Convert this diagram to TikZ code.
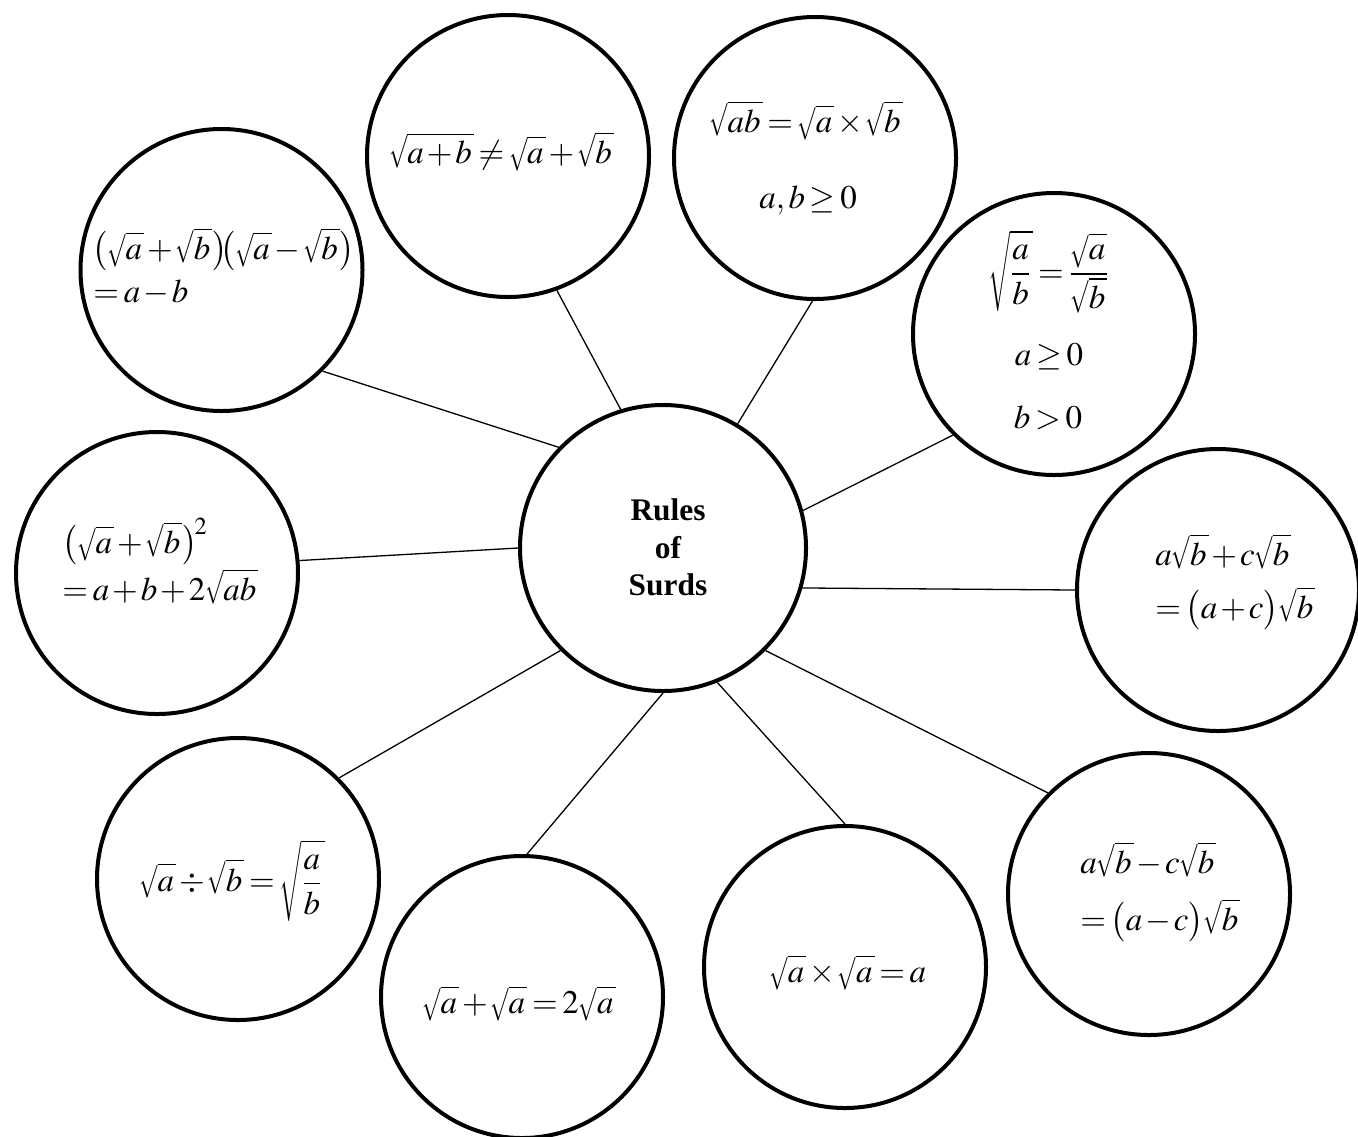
\documentclass[tikz,border=0pt]{standalone}
\usepackage{graphicx}
\usepackage{mathptmx}
\usepackage{fontspec}
\setmainfont{Liberation Serif}
\thinmuskip=2mu
\medmuskip=1.6mu plus 1mu minus 1mu
\thickmuskip=2.6mu plus 2mu
\newlength\rtw
\newlength\rth
\newlength\rtt
\newbox\rtboxA
\newbox\rtboxB
\newcommand\rt[1]{\mathpalette\rtaux{#1}}
\newcommand\rtaux[2]{%
  \setbox\rtboxA=\hbox{$\mathsurround=0pt#1\sqrt{\vphantom{#2}}$}%
  \setbox\rtboxB=\hbox{$\mathsurround=0pt#1#2$}%
  \rth=\ht\rtboxA \rtw=\wd\rtboxB \rtt=\fontdimen8\textfont3
  \mathord{\scalebox{0.66}[1]{\copy\rtboxA}%
  \rlap{\rule[\dimexpr\rth-\rtt\relax]{\dimexpr\rtw+1pt\relax}{\rtt}}\copy\rtboxB\kern1pt}}
\begin{document}
\begin{tikzpicture}[x=0.5pt,y=-0.5pt,
  bubble/.style={circle,draw,line width=2pt,inner sep=0pt,minimum size=141pt},
  hub/.style={circle,draw,line width=2pt,inner sep=0pt,minimum size=143pt},
  link/.style={line width=0.65pt},
  mtext/.style={inner sep=0pt,font=\fontsize{16.5}{19}\selectfont},
  ttext/.style={inner sep=0pt,font=\fontsize{15.7}{18.75}\selectfont\bfseries}]
\useasboundingbox (0,0) rectangle (1358,1136);
% circles
\node[hub] (C) at (663,548) {};
\node[bubble] (TL) at (221.5,270) {};
\node[bubble] (TML) at (508,156) {};
\node[bubble] (TMR) at (815,158) {};
\node[bubble] (RU) at (1054,334) {};
\node[bubble] (R) at (1218,590) {};
\node[bubble] (RL) at (1149,894) {};
\node[bubble] (BR) at (845,967) {};
\node[bubble] (BM) at (522,997) {};
\node[bubble] (BL) at (238,879) {};
\node[bubble] (L) at (157,573) {};
% connectors
\draw[link] (C.136) -- (TL.-45);
\draw[link] (C.107) -- (TML.-70);
\draw[link] (C.59) -- (TMR.-91);
\draw[link] (C.15.5) -- (RU.225.6);
\draw[link] (C.-16.7) -- (R.180);
\draw[link] (C.-45) -- (RL.135.6);
\draw[link] (C.-68.3) -- (BR.90);
\draw[link] (C.-90) -- (BM.88);
\draw[link] (C.225) -- (BL.45);
\draw[link] (C.180) -- (L.5);
% texts
\node[ttext,anchor=base] (t1) at (668,520) {Rules};
\node[ttext,anchor=base] (t2) at (668,558) {of};
\node[ttext,anchor=base] (t3) at (668,595) {Surds};
\node[mtext,anchor=base west] (tl1) at (92,259) {$\bigl(\rt{a}+\rt{b}\bigr)\!\!\bigl(\rt{a}-\rt{b}\bigr)$};
\node[mtext,anchor=base west] (tl2) at (93,302) {$=a-b$};
\node[mtext,anchor=base] (tm1) at (501.5,163) {$\rt{a+b}\neq\rt{a}+\rt{b}$};
\node[mtext,anchor=base] (tr1) at (806,132) {$\rt{ab}=\rt{a}\times\rt{b}$};
\node[mtext,anchor=base] (tr2) at (808,208) {$a,b\geq 0$};
\node[mtext] (ru1) at (1049,272) {$\displaystyle\rt{\frac{a}{b}}=\frac{\rt{a}}{\rt{b}}$};
\node[mtext,anchor=base] (ru2) at (1049,365) {$a\geq 0$};
\node[mtext,anchor=base] (ru3) at (1048,428) {$b>0$};
\node[mtext,anchor=base west] (l1) at (62,553) {$\bigl(\rt{a}+\rt{b}\bigr)^{\!2}$};
\node[mtext,anchor=base west] (l2) at (62,600) {$=a+b+2\rt{ab}$};
\node[mtext,anchor=base west] (r1) at (1155,565) {$a\rt{b}+c\rt{b}$};
\node[mtext,anchor=base west] (r2) at (1155,618) {$=\bigl(a+c\bigr)\rt{b}$};
\node[mtext,anchor=base west] (rl1) at (1080,873) {$a\rt{b}-c\rt{b}$};
\node[mtext,anchor=base west] (rl2) at (1080,930) {$=\bigl(a-c\bigr)\rt{b}$};
\node[mtext] (bl1) at (232,881) {$\displaystyle\rt{a}\div\rt{b}=\rt{\frac{a}{b}}$};
\node[mtext,anchor=base] (bm1) at (519,1013) {$\rt{a}+\rt{a}=2\rt{a}$};
\node[mtext,anchor=base] (br1) at (848,982) {$\rt{a}\times\rt{a}=a$};
\end{tikzpicture}
\end{document}
